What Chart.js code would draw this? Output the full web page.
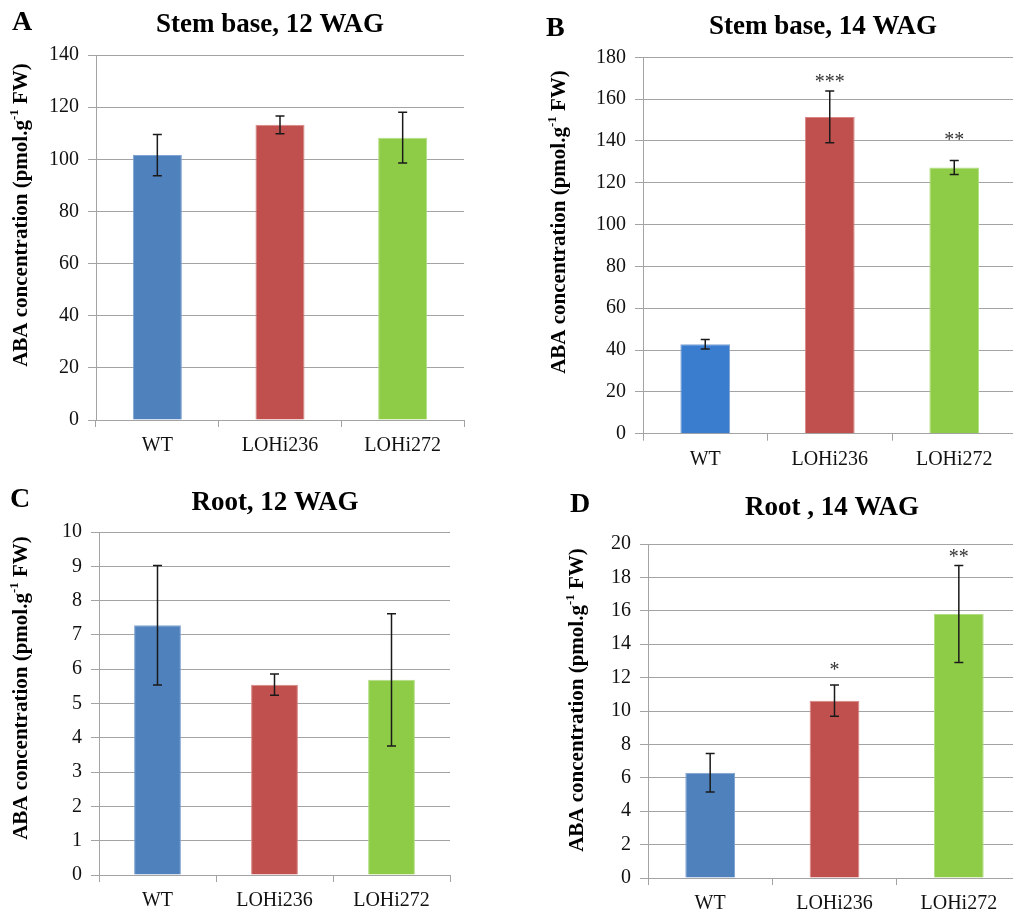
<!DOCTYPE html>
<html>
<head>
<meta charset="utf-8">
<script src="https://cdn.jsdelivr.net/npm/chart.js@4.4.1/dist/chart.umd.min.js"></script>
<style>
  html, body { margin: 0; padding: 0; background: #fff; overflow: hidden; }
  body { width: 1013px; height: 910px; position: relative; }
  canvas { position: absolute; }
</style>
</head>
<body>
<canvas id="cA"></canvas>
<canvas id="cB"></canvas>
<canvas id="cC"></canvas>
<canvas id="cD"></canvas>
<script>
// Datos
const groups = ['WT', 'LOHi236', 'LOHi272'];

const stem12Mean = [101.6, 113.2, 108.3];
const stem12Err = [7.9, 3.4, 9.7];

const stem14Mean = [42.8, 151.5, 127.3];
const stem14Err = [2.3, 12.4, 3.4];
const stem14Sig = ['', '***', '**'];
const stem14SigAt = [null, 170.2, 142.6];

const root12Mean = [7.28, 5.55, 5.69];
const root12Err = [1.74, 0.31, 1.93];

const root14Mean = [6.3, 10.62, 15.81];
const root14Err = [1.15, 0.93, 2.9];
const root14Sig = ['', '*', '**'];
const root14SigAt = [null, 12.7, 19.5];

const barColors = ['#4F81BD', '#C0504D', '#8ECC47'];
const barColorsB = ['#3A7DCE', '#C0504D', '#8ECC47'];
const borderColors = ['#7FA3D2', '#D98582', '#B2DE82'];

const SERIF = "'Liberation Serif', 'Times New Roman', serif";
const GRID = '#a3a3a3';

// Barras de error, asteriscos, titulos
const decoPlugin = {
    id: 'deco',
    afterDatasetsDraw(chart, args, o) {
        const ctx = chart.ctx;
        const y = chart.scales.y;
        const meta = chart.getDatasetMeta(0);
        ctx.save();
        ctx.strokeStyle = '#1a1a1a';
        ctx.lineWidth = 1.5;
        meta.data.forEach((bar, i) => {
            const m = o.mean[i], e = o.err[i];
            const yt = y.getPixelForValue(m + e), yb = y.getPixelForValue(m - e);
            ctx.beginPath();
            ctx.moveTo(bar.x, yt); ctx.lineTo(bar.x, yb);
            ctx.moveTo(bar.x - 4.5, yt); ctx.lineTo(bar.x + 4.5, yt);
            ctx.moveTo(bar.x - 4.5, yb); ctx.lineTo(bar.x + 4.5, yb);
            ctx.stroke();
            if (o.sig && o.sig[i]) {
                ctx.fillStyle = '#333';
                ctx.font = '20px ' + SERIF;
                ctx.textAlign = 'center';
                ctx.textBaseline = 'middle';
                ctx.fillText(o.sig[i], bar.x, y.getPixelForValue(o.sigAt[i]) + 5);
            }
        });
        ctx.restore();
    },
    afterDraw(chart, args, o) {
        const ctx = chart.ctx;
        ctx.save();
        ctx.fillStyle = '#000';
        ctx.textBaseline = 'middle';
        ctx.font = 'bold 28px ' + SERIF;
        ctx.textAlign = 'left';
        ctx.fillText(o.letter, o.letterX, o.letterY);
        ctx.textAlign = 'center';
        ctx.font = 'bold 27px ' + SERIF;
        ctx.fillText(o.title, o.titleX, o.titleY);

        // titulo del eje y con superindice
        const big = 'bold 21px ' + SERIF, small = 'bold 13px ' + SERIF;
        const p1 = 'ABA concentration (pmol.g', p2 = '-1', p3 = ' FW)';
        ctx.font = big; const w1 = ctx.measureText(p1).width, w3 = ctx.measureText(p3).width;
        ctx.font = small; const w2 = ctx.measureText(p2).width;
        const total = w1 + w2 + w3;
        ctx.translate(o.ytX, o.ytY);
        ctx.rotate(-Math.PI / 2);
        ctx.textAlign = 'left';
        let x = -total / 2;
        ctx.font = big; ctx.fillText(p1, x, 0); x += w1;
        ctx.font = small; ctx.fillText(p2, x, -7); x += w2;
        ctx.font = big; ctx.fillText(p3, x, 0);
        ctx.restore();
    }
};

function makePanel(id, pos, area, mean, err, colors, yMax, yStep, deco) {
    const cv = document.getElementById(id);
    cv.width = pos.w; cv.height = pos.h;
    cv.style.left = pos.x + 'px'; cv.style.top = pos.y + 'px';
    const yWidth = area.l - pos.x;
    const xHeight = pos.y + pos.h - area.b;
    return new Chart(cv.getContext('2d'), {
        type: 'bar',
        data: {
            labels: groups,
            datasets: [{
                data: mean,
                backgroundColor: colors,
                borderColor: borderColors,
                borderWidth: 1,
                barPercentage: 0.4,
                categoryPercentage: 1
            }]
        },
        options: {
            responsive: false,
            animation: false,
            layout: {padding: {left: 0, top: area.t - pos.y, right: pos.x + pos.w - area.r, bottom: 0}},
            plugins: {legend: {display: false}, tooltip: {enabled: false}, deco: deco},
            scales: {
                x: {
                    afterFit: s => { s.height = xHeight; },
                    grid: {drawOnChartArea: false, drawTicks: true, tickLength: 7, color: GRID, offset: true},
                    border: {display: true, color: GRID},
                    ticks: {color: '#111', padding: 7, font: {family: SERIF, size: 20}}
                },
                y: {
                    min: 0, max: yMax,
                    afterFit: s => { s.width = yWidth; },
                    grid: {color: GRID, tickLength: 8},
                    border: {display: true, color: GRID},
                    ticks: {stepSize: yStep, color: '#111', padding: 9, font: {family: SERIF, size: 20}}
                }
            }
        },
        plugins: [decoPlugin]
    });
}

makePanel('cA', {x: 0, y: 0, w: 506, h: 480}, {l: 96, t: 55, r: 464, b: 420},
    stem12Mean, stem12Err, barColors, 140, 20,
    {mean: stem12Mean, err: stem12Err, letter: 'A', letterX: 12, letterY: 23,
     title: 'Stem base, 12 WAG', titleX: 270, titleY: 25, ytX: 22, ytY: 215});

makePanel('cB', {x: 506, y: 0, w: 520, h: 480}, {l: 643, t: 57.3, r: 1016.5, b: 433.7},
    stem14Mean, stem14Err, barColorsB, 180, 20,
    {mean: stem14Mean, err: stem14Err, sig: stem14Sig, sigAt: stem14SigAt, letter: 'B', letterX: 40, letterY: 29,
     title: 'Stem base, 14 WAG', titleX: 317, titleY: 27, ytX: 54, ytY: 222});

makePanel('cC', {x: 0, y: 440, w: 506, h: 470}, {l: 99, t: 532, r: 450, b: 875},
    root12Mean, root12Err, barColors, 10, 1,
    {mean: root12Mean, err: root12Err, letter: 'C', letterX: 10, letterY: 60,
     title: 'Root, 12 WAG', titleX: 275, titleY: 63, ytX: 22, ytY: 248});

makePanel('cD', {x: 506, y: 440, w: 520, h: 470}, {l: 648, t: 544, r: 1021, b: 878},
    root14Mean, root14Err, barColors, 20, 2,
    {mean: root14Mean, err: root14Err, sig: root14Sig, sigAt: root14SigAt, letter: 'D', letterX: 64, letterY: 65,
     title: 'Root , 14 WAG', titleX: 326, titleY: 68, ytX: 72, ytY: 260});
</script>
</body>
</html>
